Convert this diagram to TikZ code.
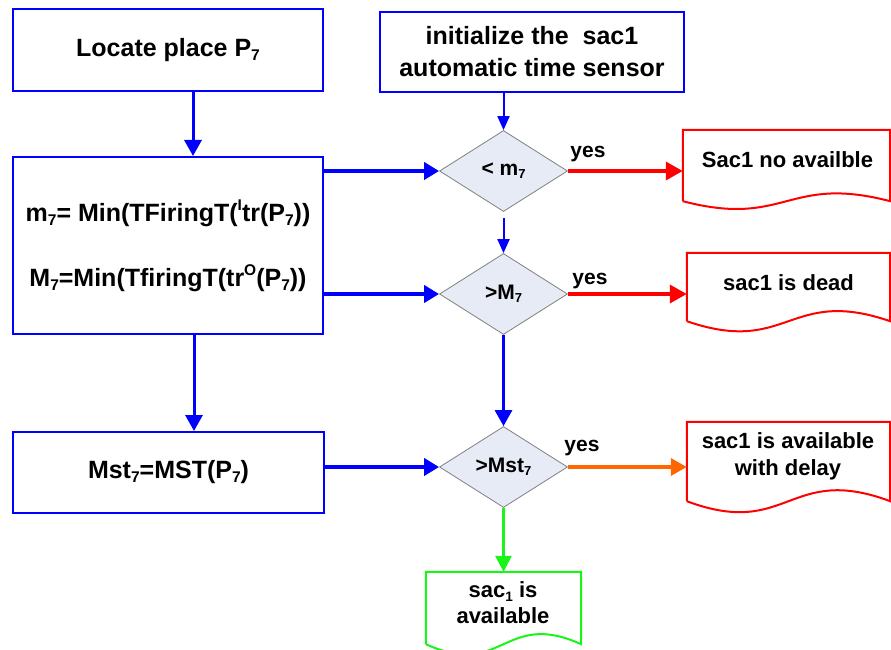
\documentclass[tikz,border=0pt]{standalone}
\usepackage{fontspec}
\setmainfont{Liberation Sans}
\usepackage{graphicx}
\usetikzlibrary{arrows.meta,calc,shapes.geometric}
\definecolor{fcblue}{RGB}{0,0,255}
\definecolor{fcred}{RGB}{255,0,0}
\definecolor{fcorange}{RGB}{255,102,0}
\definecolor{fcgreen}{RGB}{25,245,25}
\definecolor{dfill}{RGB}{230,235,245}
\definecolor{dline}{RGB}{128,128,128}
\newcommand\lo[1]{\raisebox{-0.3ex}{\scalebox{0.62}{#1}}}
\newcommand\hi[1]{\raisebox{0.85ex}{\scalebox{0.62}{#1}}}
\newcommand\docpath[3]{\draw[#1] (#2.south west) -- (#2.north west) -- (#2.north east) -- (#2.south east) .. controls ($(#2.south east)!0.5!(#2.south west)+(0,-#3)$) and ($(#2.south east)!0.5!(#2.south west)+(0,#3)$) .. (#2.south west);}
\begin{document}
\begin{tikzpicture}[x=1pt,y=-1pt,
  box/.style={draw=fcblue,line width=2pt,rectangle,inner sep=0pt,minimum width=310pt},
  big/.style={font=\bfseries\fontsize{25}{32}\selectfont,align=center},
  mid/.style={font=\bfseries\fontsize{22}{27}\selectfont,align=center},
  small/.style={font=\bfseries\fontsize{21}{25}\selectfont},
  dec/.style={diamond,draw=dline,line width=0.8pt,fill=dfill,inner sep=0pt,minimum width=128pt,minimum height=81pt,small},
  doc/.style={rectangle,inner sep=0pt,draw=none},
  docline/.style={line width=2pt,line join=miter},
  bthick/.style={draw=fcblue,fill=fcblue,line width=4pt,-{Triangle[length=15pt,width=17pt]}},
  bvert/.style={draw=fcblue,fill=fcblue,line width=3pt,-{Triangle[length=16pt,width=17pt]}},
  bthin/.style={draw=fcblue,fill=fcblue,line width=2pt,-{Triangle[length=14pt,width=12pt]}},
  rarr/.style={draw=fcred,fill=fcred,line width=3.5pt,-{Triangle[length=17pt,width=18pt]}},
  oarr/.style={draw=fcorange,fill=fcorange,line width=3.5pt,-{Triangle[length=16pt,width=17pt]}},
  garr/.style={draw=fcgreen,fill=fcgreen,line width=3pt,-{Triangle[length=16pt,width=16pt]}}
]
\useasboundingbox[fill=white] (0,0) rectangle (891,650);

% left column
\node[box,minimum height=82pt,big] (locate) at (168,50) {Locate place P\lo{7}};
\node[box,minimum height=177pt] (calc) at (168,245.5) {};
\node[big] (mline) at (168,213) {m\lo{7}= Min(TFiringT(\hi{I}tr(P\lo{7}))};
\node[big] (Mline) at (168,278) {M\lo{7}=Min(TfiringT(tr\hi{O}(P\lo{7}))};
\node[box,minimum height=81pt,minimum width=311pt,big] (mst) at (168.5,472.5) {Mst\lo{7}=MST(P\lo{7})};

% middle column
\node[box,minimum width=304pt,minimum height=80pt,big] (init) at (532,52) {initialize the\ \ sac1\\automatic time sensor};
\node[dec] (d1) at (503.5,171) {< m\lo{7}};
\node[dec] (d2) at (503.5,294) {>M\lo{7}};
\node[dec] (d3) at (503.5,467) {>Mst\lo{7}};

% documents
\node[doc,minimum width=207pt,minimum height=71pt] (doc1) at (786.5,165.5) {};
\node[mid] (doc1t) at (787.5,160) {Sac1 no availble};
\node[doc,minimum width=203pt,minimum height=68pt] (doc2) at (788.5,287) {};
\node[mid] (doc2t) at (788.5,283) {sac1 is dead};
\node[doc,minimum width=203pt,minimum height=79pt] (doc3) at (788.5,461.5) {};
\node[mid] (doc3t) at (788,456) {sac1 is available\\with delay};
\node[doc,minimum width=155pt,minimum height=72pt] (docg) at (503.5,608) {};
\node[mid] (docgt) at (503,603) {sac\lo{1} is\\[-1pt]available};

\docpath{docline,draw=fcred}{doc1}{27}
\docpath{docline,draw=fcred}{doc2}{35}
\docpath{docline,draw=fcred}{doc3}{38}
\docpath{docline,draw=fcgreen}{docg}{35}

% yes labels
\node[small] (y1) at (588,154) {yes};
\node[small] (y2) at (590,281) {yes};
\node[small] (y3) at (582,448) {yes};

% connectors
\coordinate (c1) at ($(locate.south)+(25,0)$);
\coordinate (c2) at ($(calc.south)+(26,0)$);
\draw[bvert] (c1) -- (c1 |- calc.north);
\draw[bvert] (c2) -- (c2 |- mst.north);
\draw[bthin] (d1.north |- init.south) -- (d1.north);
\draw[bthin,shorten <=6pt] (d1.south) -- (d2.north);
\draw[bvert] (d2.south) -- (d3.north);
\draw[bthick] (calc.east |- d1.west) -- (d1.west);
\draw[bthick] (calc.east |- d2.west) -- (d2.west);
\draw[bthick] (mst.east |- d3.west) -- (d3.west);
\draw[rarr] (d1.east) -- (d1.east -| doc1.west);
\draw[rarr] (d2.east) -- (d2.east -| doc2.west);
\draw[oarr] (d3.east) -- (d3.east -| doc3.west);
\draw[garr] (d3.south) -- (docg.north);
\end{tikzpicture}
\end{document}
